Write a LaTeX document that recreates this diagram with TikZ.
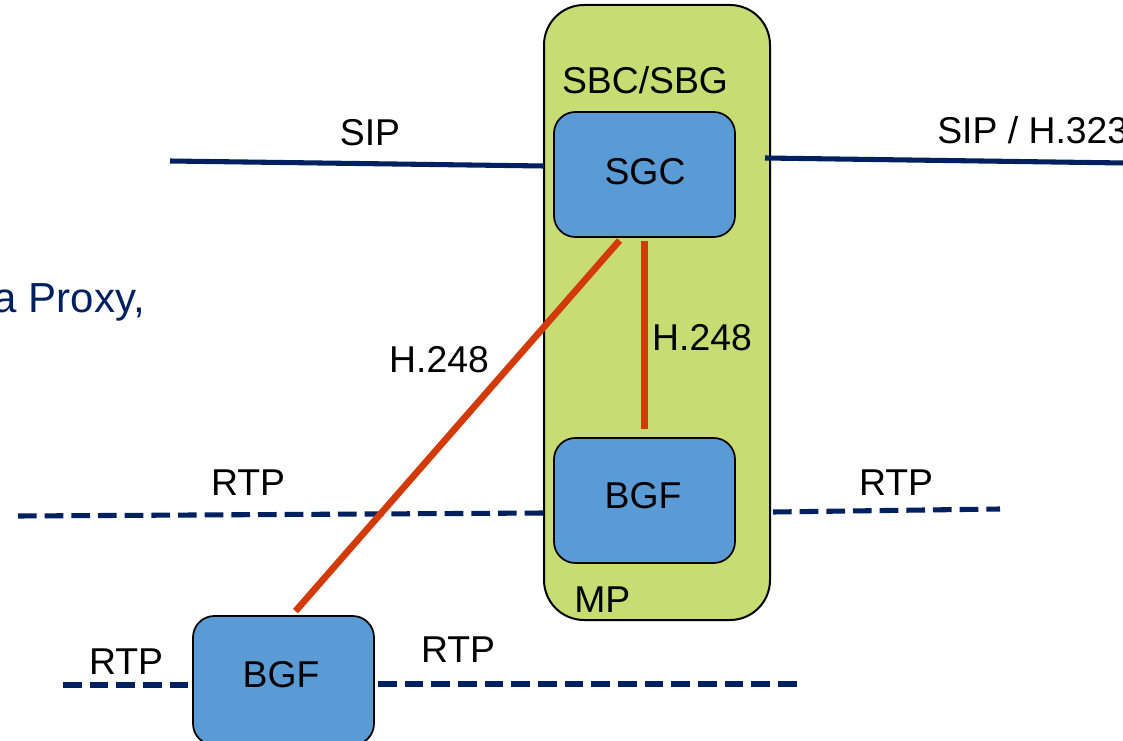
\documentclass[tikz,border=0pt]{standalone}
\usepackage{fontspec}
\setmainfont{Liberation Sans}
\definecolor{sbcgreen}{RGB}{201,220,115}
\definecolor{boxblue}{RGB}{91,155,213}
\definecolor{navy}{RGB}{0,32,96}
\definecolor{ctrlred}{RGB}{210,58,10}
\begin{document}
\begin{tikzpicture}[x=0.75pt,y=-0.75pt,
  font=\fontsize{28}{33}\selectfont,
  container/.style={draw=black,line width=1.5pt,fill=sbcgreen,rounded corners=30pt,
    minimum width=169.5pt,minimum height=461.25pt,inner sep=0pt},
  fbox/.style={draw=black,line width=1.3pt,fill=boxblue,rounded corners=16pt,
    minimum width=135.75pt,inner sep=0pt},
  lbl/.style={inner sep=0pt,text=black},
  sigline/.style={draw=navy,line width=3.8pt},
  rtpline/.style={draw=navy,line width=3.8pt,dash pattern=on 14pt off 6pt},
  h248/.style={draw=ctrlred,line width=5pt}]
\useasboundingbox (0,0) rectangle (1123,741);

% session border controller with its two functions
\node[container] (sbc) at (657,312.5) {};
\node[fbox,minimum height=93.75pt] (sgc) at (644.5,174.5) {};
\node[fbox,minimum height=93.75pt] (bgf1) at (644.5,500.5) {};
\node[fbox,minimum height=96.75pt] (bgf2) at (283.5,680.5) {};

\node[lbl] (tsbc) at (645,80) {SBC/SBG};
\node[lbl] (tsgc) at (645,172) {SGC};
\node[lbl] (tbgf1) at (643,496) {BGF};
\node[lbl] (tbgf2) at (281,675) {BGF};
\node[lbl,anchor=west] (tmp) at (574,600) {MP};

% signalling
\coordinate (sipL) at (170,161);
\coordinate (sipR) at (544,166);
\coordinate (h323L) at (765,158);
\coordinate (h323R) at (1125,163);
\draw[sigline] (sipL) -- (sipR);
\draw[sigline] (h323L) -- (h323R);
\node[lbl] (tsip) at (370,133) {SIP};
\node[lbl,anchor=west] (th323) at (937,130) {SIP / H.323};
\node[lbl,anchor=east,text=navy,font=\fontsize{31.5}{36}\selectfont] (tproxy) at (145,302) {a Proxy,};

% media
\coordinate (rtp1L) at (18,516);
\coordinate (rtp1R) at (544,513);
\coordinate (rtp2L) at (773,512);
\coordinate (rtp2R) at (1000,509);
\coordinate (rtp3L) at (63,685);
\coordinate (rtp3R) at (193,685);
\coordinate (rtp4L) at (378,684);
\coordinate (rtp4R) at (801,684);
\draw[rtpline] (rtp1L) -- (rtp1R);
\draw[rtpline] (rtp2L) -- (rtp2R);
\draw[rtpline] (rtp3L) -- (rtp3R);
\draw[rtpline] (rtp4L) -- (rtp4R);
\node[lbl] (trtp1) at (248,483) {RTP};
\node[lbl] (trtp2) at (896,483) {RTP};
\node[lbl] (trtp3) at (126,662) {RTP};
\node[lbl] (trtp4) at (458,650) {RTP};

% gateway control
\draw[h248] ([xshift=-18.75pt,yshift=-2pt]sgc.south) -- ([xshift=9pt,yshift=3pt]bgf2.north);
\draw[h248] ([yshift=-2pt]sgc.south) -- ([yshift=6pt]bgf1.north);
\node[lbl] (th1) at (439,360) {H.248};
\node[lbl] (th2) at (702,338) {H.248};
\end{tikzpicture}
\end{document}
